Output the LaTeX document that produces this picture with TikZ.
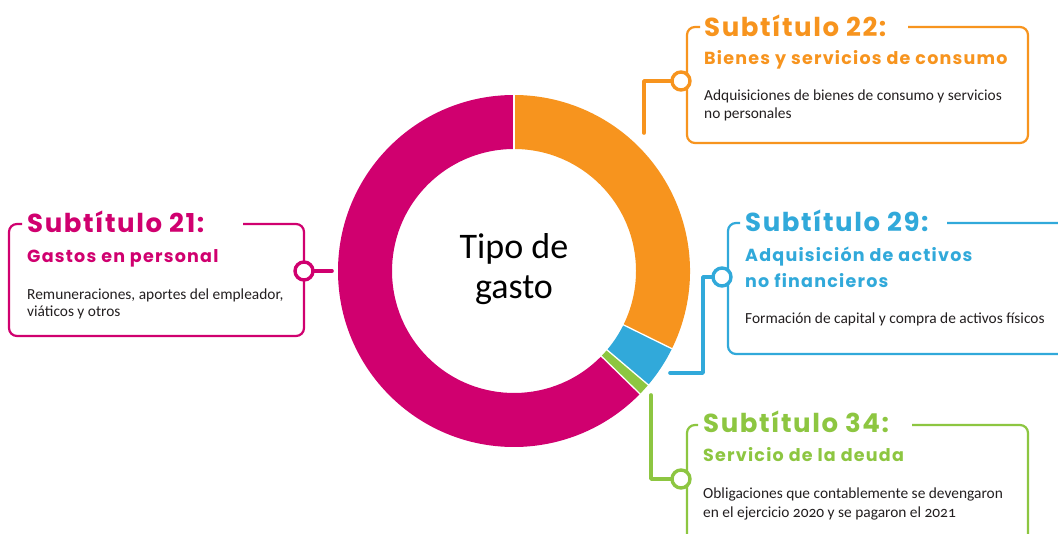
\documentclass[tikz,border=0pt]{standalone}
\usepackage{fontspec}
\setmainfont{Carlito}[Numbers=OldStyle]
\newfontfamily\titlefont{Poppins}[LetterSpace=6, Ligatures={NoCommon}]
\newfontfamily\subfont{Poppins}[LetterSpace=7, Ligatures={NoCommon}]
\usetikzlibrary{calc}
\definecolor{cmag}{HTML}{D0006F}
\definecolor{corange}{HTML}{F7941E}
\definecolor{cblue}{HTML}{31A9DA}
\definecolor{cgreen}{HTML}{8DC641}
\definecolor{bodytext}{HTML}{231F20}
\newcommand\donutseg[3]{\fill[#1] ($(c)+(#2:176)$) arc[start angle=#2, end angle=#3, radius=176] -- ($(c)+(#3:122)$) arc[start angle=#3, end angle=#2, radius=122] -- cycle;}
\begin{document}
\begin{tikzpicture}[x=1pt,y=1pt,
  boxline/.style={line width=2.2pt, rounded corners=8pt},
  conn/.style={line width=3.6pt, line cap=round, line join=round},
  dot/.style={circle, draw, line width=3.4pt, fill=white, minimum size=18pt, inner sep=0pt, outer sep=0pt},
  ttl/.style={anchor=base west, inner sep=0pt, font=\titlefont\bfseries\fontsize{26}{30}\selectfont},
  sub/.style={anchor=base west, inner sep=0pt, font=\subfont\bfseries\fontsize{17.5}{24}\selectfont},
  body/.style={anchor=base west, inner sep=0pt, text=bodytext, font=\fontsize{15.4}{18}\selectfont},
  sep/.style={white, line width=1.3pt},
]
\useasboundingbox (0,0) rectangle (1058,-534);
\clip (0,0) rectangle (1058,-534);
\fill[white] (0,0) rectangle (1058,-534);

% donut
\coordinate (c) at (514,-271);
\donutseg{corange}{-26.2}{90}
\donutseg{cblue}{-40.3}{-26.2}
\donutseg{cgreen}{-44.3}{-40.3}
\donutseg{cmag}{90}{315.7}
\foreach \a in {90,-26.2,-40.3,-44.3} \draw[sep] ($(c)+(\a:119)$) -- ($(c)+(\a:179)$);
\node[anchor=base, inner sep=0pt, font=\fontsize{36}{40}\selectfont, text=black] (ctr1) at (514,-259) {Tipo de};
\node[anchor=base, inner sep=0pt, font=\fontsize{36}{40}\selectfont, text=black] (ctr2) at (514,-299) {gasto};

% box 22
\draw[boxline, corange] (908,-27) -| (1028,-143) -| (687,-27) -- (700,-27);
\node[ttl, text=corange] (t22) at (704,-37) {Subtítulo 22:};
\node[sub, text=corange] (s22) at (704,-65) {Bienes y servicios de consumo};
\node[body] (b22a) at (704,-101) {Adquisiciones de bienes de consumo y servicios};
\node[body] (b22b) at (704,-119) {no personales};

% box 21
\draw[boxline, cmag] (243,-224) -| (304,-336) -| (9,-224) -- (22,-224);
\node[ttl, text=cmag] (t21) at (27,-233) {Subtítulo 21:};
\node[sub, text=cmag] (s21) at (27,-263) {Gastos en personal};
\node[body] (b21a) at (27,-300) {Remuneraciones, aportes del empleador,};
\node[body] (b21b) at (27,-317) {viáticos y otros};

% box 29
\draw[boxline, cblue] (947,-223) -- (1075,-223) -- (1075,-354) -| (728,-223) -- (740,-223);
\node[ttl, text=cblue] (t29) at (745,-232) {Subtítulo 29:};
\node[sub, text=cblue] (s29a) at (745,-262) {Adquisición de activos};
\node[sub, text=cblue] (s29b) at (745,-288) {no financieros};
\node[body] (b29) at (745,-324) {Formación de capital y compra de activos físicos};

% box 34
\draw[boxline, cgreen] (912,-425) -| (1028,-550);
\draw[boxline, cgreen] (687,-550) |- (698,-425);
\node[ttl, text=cgreen] (t34) at (703,-433) {Subtítulo 34:};
\node[sub, text=cgreen] (s34) at (703,-462) {Servicio de la deuda};
\node[body] (b34a) at (703,-499) {Obligaciones que contablemente se devengaron};
\node[body] (b34b) at (703,-518) {en el ejercicio 2020 y se pagaron el 2021};

% connectors
\node[dot, draw=corange] (d22) at (681,-81) {};
\coordinate (e22) at (644,-133);
\draw[conn, corange] (d22.west) -| (e22);

\node[dot, draw=cmag] (d21) at (304,-271) {};
\coordinate (e21) at (332,-271);
\draw[conn, cmag] (d21.east) -- (e21);

\node[dot, draw=cblue] (d29) at (722,-277) {};
\coordinate (k29) at (703,-373);
\coordinate (e29) at (670,-373);
\draw[conn, cblue] (d29.west) -| (k29) -- (e29);

\node[dot, draw=cgreen] (d34) at (681,-479) {};
\coordinate (e34) at (651,-395);
\draw[conn, cgreen] (d34.west) -| (e34);
\end{tikzpicture}
\end{document}
